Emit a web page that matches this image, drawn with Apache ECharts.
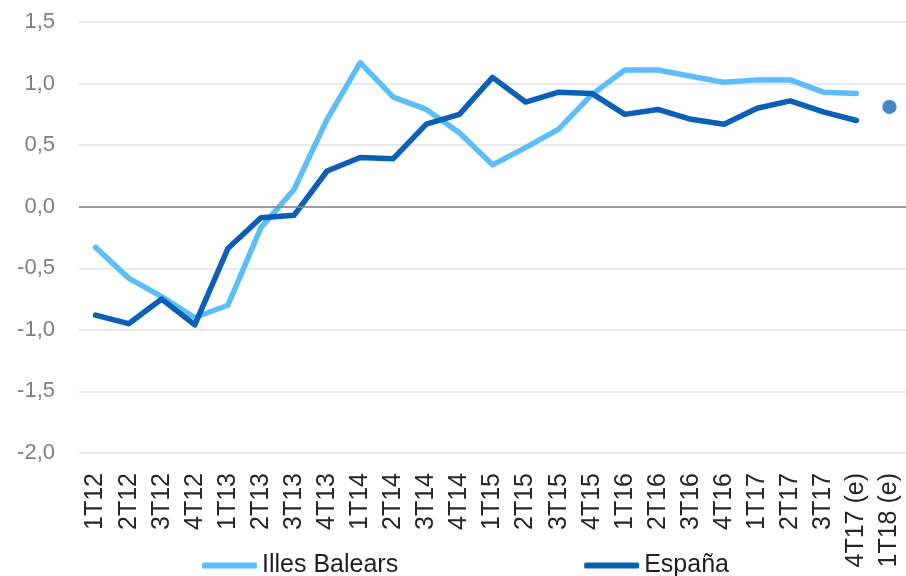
<!DOCTYPE html>
<html><head><meta charset="utf-8">
<script src="https://cdn.jsdelivr.net/npm/echarts@6/dist/echarts.min.js"></script>
<style>html,body{margin:0;padding:0;background:#fff}#c{width:906px;height:576px}</style>
</head><body><div id="c"></div>
<script>
const categories = ['1T12','2T12','3T12','4T12','1T13','2T13','3T13','4T13','1T14','2T14','3T14','4T14','1T15','2T15','3T15','4T15','1T16','2T16','3T16','4T16','1T17','2T17','3T17','4T17 (e)','1T18 (e)'];
const baleares = [-0.33,-0.58,-0.73,-0.90,-0.80,-0.17,0.14,0.71,1.17,0.89,0.79,0.60,0.34,0.48,0.63,0.91,1.11,1.11,1.06,1.01,1.03,1.03,0.93,0.92,null];
const espana = [-0.88,-0.95,-0.75,-0.96,-0.34,-0.09,-0.07,0.29,0.40,0.39,0.67,0.75,1.05,0.85,0.93,0.92,0.75,0.79,0.71,0.67,0.80,0.86,0.77,0.70,null];
const espanaEst = [null,null,null,null,null,null,null,null,null,null,null,null,null,null,null,null,null,null,null,null,null,null,null,null,0.81];
const yTicks = {min:-2, max:1.5, step:0.5};

const LIGHT = '#5CBDFB', DARK = '#0B5FB4';
const FONT = 'Liberation Sans, Arial, sans-serif';
const chart = echarts.init(document.getElementById('c'));
chart.setOption({
  animation:false,
  grid:{left:79,right:0,top:22,bottom:123},
  legend:{
    left:197, top:548, itemGap:186, itemWidth:55, itemHeight:6,
    icon:'roundRect',
    textStyle:{fontFamily:FONT, fontSize:25, color:'#1F1F1F'},
    data:[{name:'Illes Balears', itemStyle:{color:LIGHT}},{name:'España', itemStyle:{color:DARK}}]
  },
  xAxis:{
    type:'category', data:categories, boundaryGap:true,
    axisLine:{show:false}, axisTick:{show:false},
    axisLabel:{rotate:90, fontFamily:FONT, fontSize:25, color:'#262626', margin:20, interval:0}
  },
  yAxis:{
    type:'value', min:yTicks.min, max:yTicks.max, interval:yTicks.step,
    axisLine:{show:false}, axisTick:{show:false},
    axisLabel:{fontFamily:FONT, fontSize:22, color:'#7F7F7F', margin:24,
      formatter:v=>v.toFixed(1).replace('.',',')},
    splitLine:{lineStyle:{color:'#E3E3E3', width:1.5}}
  },
  series:[
    {name:'Illes Balears', type:'line', data:baleares, showSymbol:false, symbol:'none',
     lineStyle:{color:LIGHT, width:5.5, cap:'round', join:'round'}, itemStyle:{color:LIGHT},
     markLine:{silent:true, symbol:'none', label:{show:false}, lineStyle:{color:'#808080', width:1.5, type:'solid'}, data:[{yAxis:0}]}},
    {name:'España', type:'line', data:espana, showSymbol:false, symbol:'none', z:3,
     lineStyle:{color:DARK, width:5.5, cap:'round', join:'round'}, itemStyle:{color:DARK}},
    {name:'España (e)', type:'scatter', data:espanaEst, symbol:'circle', symbolSize:13,
     itemStyle:{color:'#1666BC', borderColor:'#3A86D4', borderWidth:1.5}}
  ]
});
</script></body></html>
